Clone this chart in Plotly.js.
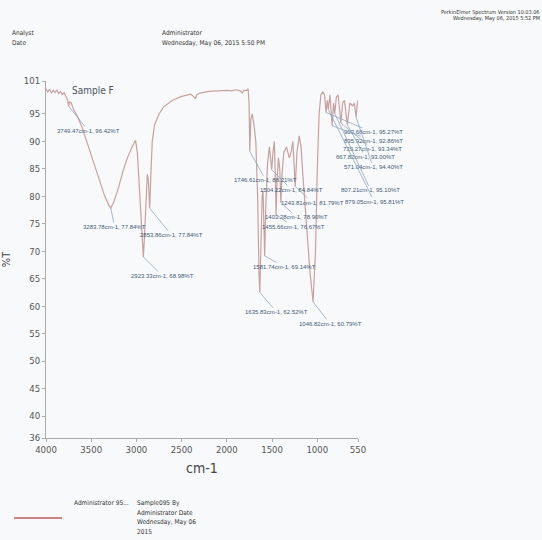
<!DOCTYPE html>
<html>
<head>
<meta charset="utf-8">
<script src="https://cdn.plot.ly/plotly-3.0.1.min.js"></script>
<style>
  html, body { margin: 0; padding: 0; background: #f8f9fa; }
  #chart { width: 542px; height: 540px; }
</style>
</head>
<body>
<div id="chart"></div>
<script>
// ---- data ----
const wavenumbers = [
  4000, 3980, 3960, 3940, 3920, 3900, 3880, 3860, 3840, 3820, 3800, 3780, 3760, 3749.47, 3740, 3720,
  3700, 3650, 3600, 3550, 3500, 3450, 3400, 3350, 3300, 3283.78, 3250, 3200, 3150, 3100, 3050, 3010,
  2990, 2970, 2950, 2935, 2923.33, 2910, 2895, 2880, 2868, 2853.86, 2840, 2825, 2800, 2750, 2700,
  2600, 2500, 2400, 2370, 2350, 2330, 2300, 2200, 2100, 2000, 1950, 1900, 1850, 1830, 1810, 1780,
  1765, 1755, 1746.61, 1735, 1720, 1700, 1680, 1660, 1645, 1635.83, 1625, 1610, 1600, 1590, 1581.74,
  1570, 1550, 1530, 1504.22, 1490, 1475, 1465, 1455.66, 1445, 1430, 1415, 1403.28, 1390, 1370, 1340,
  1310, 1290, 1270, 1243.81, 1225, 1200, 1180, 1160, 1120, 1080, 1046.82, 1020, 1000, 980, 960, 940,
  920, 903.68, 890, 879.05, 860, 835.92, 820, 807.21, 790, 770, 739.27, 720, 700, 667.82, 640, 610,
  590, 571.04, 560, 550
];
const transmittance = [
  99.6, 99.0, 99.5, 98.8, 99.3, 98.9, 99.4, 98.7, 99.1, 98.5, 98.9, 98.0, 97.5, 96.42, 97.2, 97.0,
  96.0, 94.5, 92.5, 90.0, 87.5, 85.0, 82.5, 80.0, 78.2, 77.84, 79.0, 81.5, 84.5, 87.0, 89.0, 90.2,
  88.0, 82.0, 76.0, 71.0, 68.98, 73.0, 80.0, 84.0, 83.0, 77.84, 84.0, 90.0, 93.0, 95.0, 96.3,
  97.5, 98.2, 98.6, 98.2, 97.8, 98.5, 98.8, 99.1, 99.2, 99.3, 99.2, 99.4, 99.2, 98.8, 99.3, 99.3,
  99.6, 97.0, 88.21, 94.0, 95.0, 93.0, 90.0, 80.0, 66.0, 62.52, 70.0, 80.0, 81.0, 75.0, 69.14,
  78.0, 86.0, 89.0, 84.84, 88.0, 90.0, 84.0, 76.67, 83.0, 87.0, 85.0, 78.90, 84.0, 88.0, 89.0,
  87.0, 88.0, 90.0, 81.79, 88.0, 91.0, 89.0, 84.0, 75.0, 66.0, 60.79, 70.0, 85.0, 95.0, 98.5, 99.0,
  98.5, 95.27, 97.5, 95.81, 98.5, 92.86, 97.0, 95.10, 98.0, 98.5, 93.34, 97.0, 97.5, 93.00, 97.0, 96.5,
  97.0, 94.40, 96.5, 97.5
];
const peakWn = [3749.47, 3283.78, 2853.86, 2923.33, 1746.61, 1504.22, 1243.81, 1403.28, 1455.66,
                1581.74, 1635.83, 1046.82, 903.68, 835.92, 739.27, 667.82, 571.04, 807.21, 879.05];
const peakT  = [96.42, 77.84, 77.84, 68.98, 88.21, 84.84, 81.79, 78.90, 76.67,
                69.14, 62.52, 60.79, 95.27, 92.86, 93.34, 93.00, 94.40, 95.10, 95.81];
const xTickVals = [4000, 3500, 3000, 2500, 2000, 1500, 1000, 550];
const xTickText = ['4000', '3500', '3000', '2500', '2000', '1500', '1000', '550'];
const yTickVals = [36, 40, 45, 50, 55, 60, 65, 70, 75, 80, 85, 90, 95, 101];
const yTickText = ['36', '40', '45', '50', '55', '60', '65', '70', '75', '80', '85', '90', '95', '101'];
const sampleName = 'Sample F';
const headerLeft = ['Analyst', 'Date'];
const headerMid = ['Administrator', 'Wednesday, May 06, 2015 5:50 PM'];
const headerRight = ['PerkinElmer Spectrum Version 10.03.06', 'Wednesday, May 06, 2015 5:52 PM'];
const legendName = 'Administrator 95...';
const legendDesc = ['Sample095 By', 'Administrator Date', 'Wednesday, May 06', '2015'];

// ---- layout helpers ----
const W = 542, H = 540;
const L = 46, R = 184, T = 81, B = 102;
const pw = W - L - R, ph = H - T - B;
const px = x => (x - L) / pw;           // pixel -> paper x
const py = y => (H - B - y) / ph;       // pixel -> paper y

// label offsets (pixels) for the peak annotations, in the same order as peakWn
const labelOffsets = [
  [20, 25], [4, 19], [22, 27], [19, 19], [16, 29], [20, 20], [17, 16], [16, 15], [17, 12],
  [20, 11], [17, 20], [17, 22], [47, 20], [41, 15], [32, 26], [18, 32], [17, 50], [36, 77], [46, 92]
];

const condensed = 'DejaVu Sans Condensed, Liberation Sans Narrow, Liberation Sans, sans-serif';
const labelFont = { family: 'Liberation Sans, Arial, sans-serif', size: 6, color: '#3e5a78' };
const annotations = [];

peakWn.forEach((wn, i) => {
  annotations.push({
    x: wn, y: peakT[i], xref: 'x', yref: 'y',
    text: wn.toFixed(2) + 'cm-1, ' + peakT[i].toFixed(2) + '%T',
    showarrow: true, arrowhead: 0, arrowwidth: 0.8, arrowcolor: '#8fa6bf',
    ax: labelOffsets[i][0], ay: labelOffsets[i][1],
    font: labelFont, standoff: 0
  });
});

annotations.push({
  x: px(70), y: py(90), xref: 'paper', yref: 'paper', xanchor: 'left', yanchor: 'middle',
  text: sampleName, showarrow: false,
  font: { family: condensed, size: 10, color: '#4b5563' }
});

const smallFont = { family: condensed, size: 6.5, color: '#333' };
headerLeft.forEach((t, i) => annotations.push({
  x: px(10), y: py(33 + i * 10), xref: 'paper', yref: 'paper', xanchor: 'left', yanchor: 'middle',
  text: t, showarrow: false, font: smallFont
}));
headerMid.forEach((t, i) => annotations.push({
  x: px(160), y: py(33 + i * 10), xref: 'paper', yref: 'paper', xanchor: 'left', yanchor: 'middle',
  text: t, showarrow: false, font: smallFont
}));
headerRight.forEach((t, i) => annotations.push({
  x: px(542), y: py(12 + i * 7), xref: 'paper', yref: 'paper', xanchor: 'right', yanchor: 'middle',
  text: t, showarrow: false, font: { family: condensed, size: 5.5, color: '#333' }
}));
annotations.push({
  x: px(72), y: py(503), xref: 'paper', yref: 'paper', xanchor: 'left', yanchor: 'middle',
  text: legendName, showarrow: false, font: smallFont
});
legendDesc.forEach((t, i) => annotations.push({
  x: px(135), y: py(503 + i * 9.5), xref: 'paper', yref: 'paper', xanchor: 'left', yanchor: 'middle',
  text: t, showarrow: false, font: smallFont
}));

const shapes = [{
  type: 'line', xref: 'paper', yref: 'paper',
  x0: px(14), x1: px(62), y0: py(518), y1: py(518),
  line: { color: '#c98585', width: 2 }
}];

const tickFont = { family: condensed, size: 9.5, color: '#555' };

const trace = {
  type: 'scatter', mode: 'lines',
  x: wavenumbers, y: transmittance,
  line: { color: '#c9a0a0', width: 1.2 },
  hoverinfo: 'x+y', showlegend: false
};

const layout = {
  width: W, height: H,
  margin: { l: L, r: R, t: T, b: B, pad: 0 },
  paper_bgcolor: '#f8f9fa', plot_bgcolor: '#f8f9fa',
  showlegend: false,
  xaxis: {
    range: [4000, 550], tickmode: 'array', tickvals: xTickVals, ticktext: xTickText,
    showgrid: false, zeroline: false, showline: true, linecolor: '#aaa', linewidth: 1,
    ticks: 'outside', ticklen: 3, tickcolor: '#aaa', tickfont: tickFont,
    title: { text: 'cm-1', font: { family: condensed, size: 14, color: '#444' }, standoff: 8 }
  },
  yaxis: {
    range: [36, 101], tickmode: 'array', tickvals: yTickVals, ticktext: yTickText,
    showgrid: false, zeroline: false, showline: true, linecolor: '#aaa', linewidth: 1,
    ticks: 'outside', ticklen: 3, tickcolor: '#aaa', tickfont: tickFont,
    title: { text: '%T', font: { family: condensed, size: 11, color: '#444' }, standoff: 14 }
  },
  annotations: annotations,
  shapes: shapes
};

Plotly.newPlot('chart', [trace], layout, { displayModeBar: false, staticPlot: true });
</script>
</body>
</html>
